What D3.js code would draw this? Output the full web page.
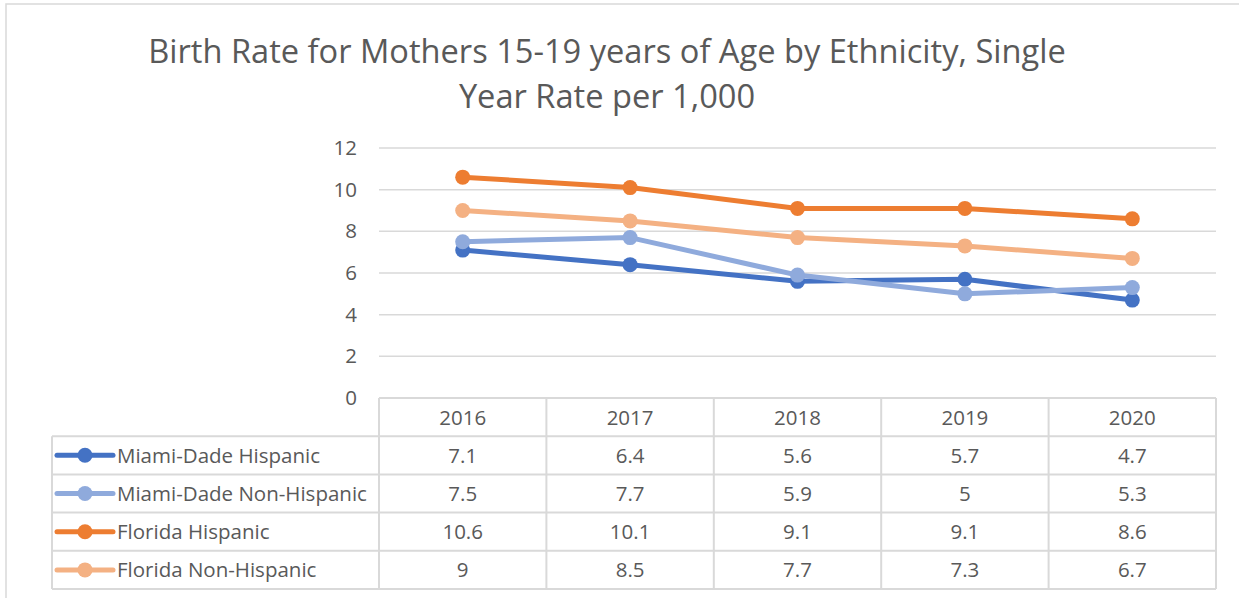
<!DOCTYPE html>
<html><head><meta charset="utf-8">
<script src="https://cdn.jsdelivr.net/npm/d3@7"></script>
<style>
html,body{margin:0;padding:0;background:#fff;}
svg text{font-family:"Open Sans","Noto Sans",sans-serif;fill:#595959;}
</style></head>
<body>
<svg id="chart" width="1239" height="598"></svg>
<script>
const years = ["2016","2017","2018","2019","2020"];
const seriesNames = ["Miami-Dade Hispanic","Miami-Dade Non-Hispanic","Florida Hispanic","Florida Non-Hispanic"];
const miamiHispanic = [7.1, 6.4, 5.6, 5.7, 4.7];
const miamiNonHispanic = [7.5, 7.7, 5.9, 5.0, 5.3];
const floridaHispanic = [10.6, 10.1, 9.1, 9.1, 8.6];
const floridaNonHispanic = [9.0, 8.5, 7.7, 7.3, 6.7];
const yTicks = [0, 2, 4, 6, 8, 10, 12];
const titleLines = ["Birth Rate for Mothers 15-19 years of Age by Ethnicity, Single", "Year Rate per 1,000"];

(function () {
const colors = ["#4472C4", "#8FAADC", "#ED7D31", "#F4B183"];
const seriesValues = [miamiHispanic, miamiNonHispanic, floridaHispanic, floridaNonHispanic];
const series = seriesNames.map((n, i) => ({name: n, values: seriesValues[i], color: colors[i]}));
const fs = "20.5px";

const svg = d3.select("#chart");
const grid = "#d9d9d9";

// outer frame
svg.append("path").attr("d", "M6,598 V4 H1239").attr("fill", "none").attr("stroke", grid).attr("stroke-width", 1.5);

// title
const titleY = [63, 108];
const tEls = titleLines.map((t, i) => svg.append("text").attr("x", 607).attr("y", titleY[i])
  .attr("text-anchor", "middle").style("font-size", "30px").text(t));
const w0 = tEls[0].node().getComputedTextLength();
const tSize = 30 * 918 / w0;
tEls.forEach(el => el.style("font-size", tSize + "px"));

const pLeft = 379, pRight = 1216, pTop = 148, pBottom = 398;
const x = d3.scaleBand().domain(years).range([pLeft, pRight]);
const y = d3.scaleLinear().domain([0, 12]).range([pBottom, pTop]);

// gridlines
svg.append("g").selectAll("line").data(yTicks.filter(d => d > 0)).join("line")
  .attr("x1", pLeft).attr("x2", pRight).attr("y1", d => y(d)).attr("y2", d => y(d))
  .attr("stroke", grid).attr("stroke-width", 1.5);

// y axis labels
const yAxis = svg.append("g").attr("transform", `translate(${pLeft},0)`)
  .call(d3.axisLeft(y).tickValues(yTicks).tickSize(0).tickPadding(22));
yAxis.select(".domain").remove();
yAxis.selectAll("text").style("font-size", fs).attr("fill", "#595959").style("font-family", '"Open Sans",sans-serif');

// lines
const line = d3.line().x((d, i) => x(years[i]) + x.bandwidth() / 2).y(d => y(d));
const lg = svg.append("g");
series.forEach(s => {
  lg.append("path").attr("d", line(s.values)).attr("fill", "none").attr("stroke", s.color)
    .attr("stroke-width", 5).attr("stroke-linejoin", "round");
  lg.selectAll(null).data(s.values).join("circle")
    .attr("cx", (d, i) => x(years[i]) + x.bandwidth() / 2).attr("cy", d => y(d)).attr("r", 7.5)
    .attr("fill", s.color);
});

// data table
const tableLeft = 52;
const rowY = d3.scaleBand().domain(["header"].concat(seriesNames)).range([398, 589]);
const tg = svg.append("g").attr("stroke", grid).attr("stroke-width", 2);
tg.append("line").attr("x1", pLeft).attr("x2", pRight).attr("y1", rowY("header")).attr("y2", rowY("header"));
seriesNames.forEach(n => {
  tg.append("line").attr("x1", tableLeft).attr("x2", pRight).attr("y1", rowY(n)).attr("y2", rowY(n));
});
tg.append("line").attr("x1", tableLeft).attr("x2", pRight).attr("y1", 589).attr("y2", 589);
tg.append("line").attr("x1", tableLeft).attr("x2", tableLeft).attr("y1", rowY(seriesNames[0])).attr("y2", 589);
years.forEach(yr => {
  tg.append("line").attr("x1", x(yr)).attr("x2", x(yr)).attr("y1", 398).attr("y2", 589);
});
tg.append("line").attr("x1", pRight).attr("x2", pRight).attr("y1", 398).attr("y2", 589);

// header labels
svg.append("g").selectAll("text").data(years).join("text")
  .attr("x", d => x(d) + x.bandwidth() / 2).attr("y", rowY("header") + rowY.bandwidth() / 2 + 7.5)
  .attr("text-anchor", "middle").style("font-size", fs).text(d => d);

// rows
series.forEach(s => {
  const cy = rowY(s.name) + rowY.bandwidth() / 2;
  const g = svg.append("g");
  g.append("line").attr("x1", 57).attr("x2", 113).attr("y1", cy).attr("y2", cy)
    .attr("stroke", s.color).attr("stroke-width", 5).attr("stroke-linecap", "round");
  g.append("circle").attr("cx", 85).attr("cy", cy).attr("r", 7.5).attr("fill", s.color);
  g.append("text").attr("x", 117).attr("y", cy + 7.5).style("font-size", fs).text(s.name);
  g.selectAll(null).data(s.values).join("text")
    .attr("x", (d, i) => x(years[i]) + x.bandwidth() / 2).attr("y", cy + 7.5)
    .attr("text-anchor", "middle").style("font-size", fs).text(d => String(d));
});
})();
</script>
</body></html>
